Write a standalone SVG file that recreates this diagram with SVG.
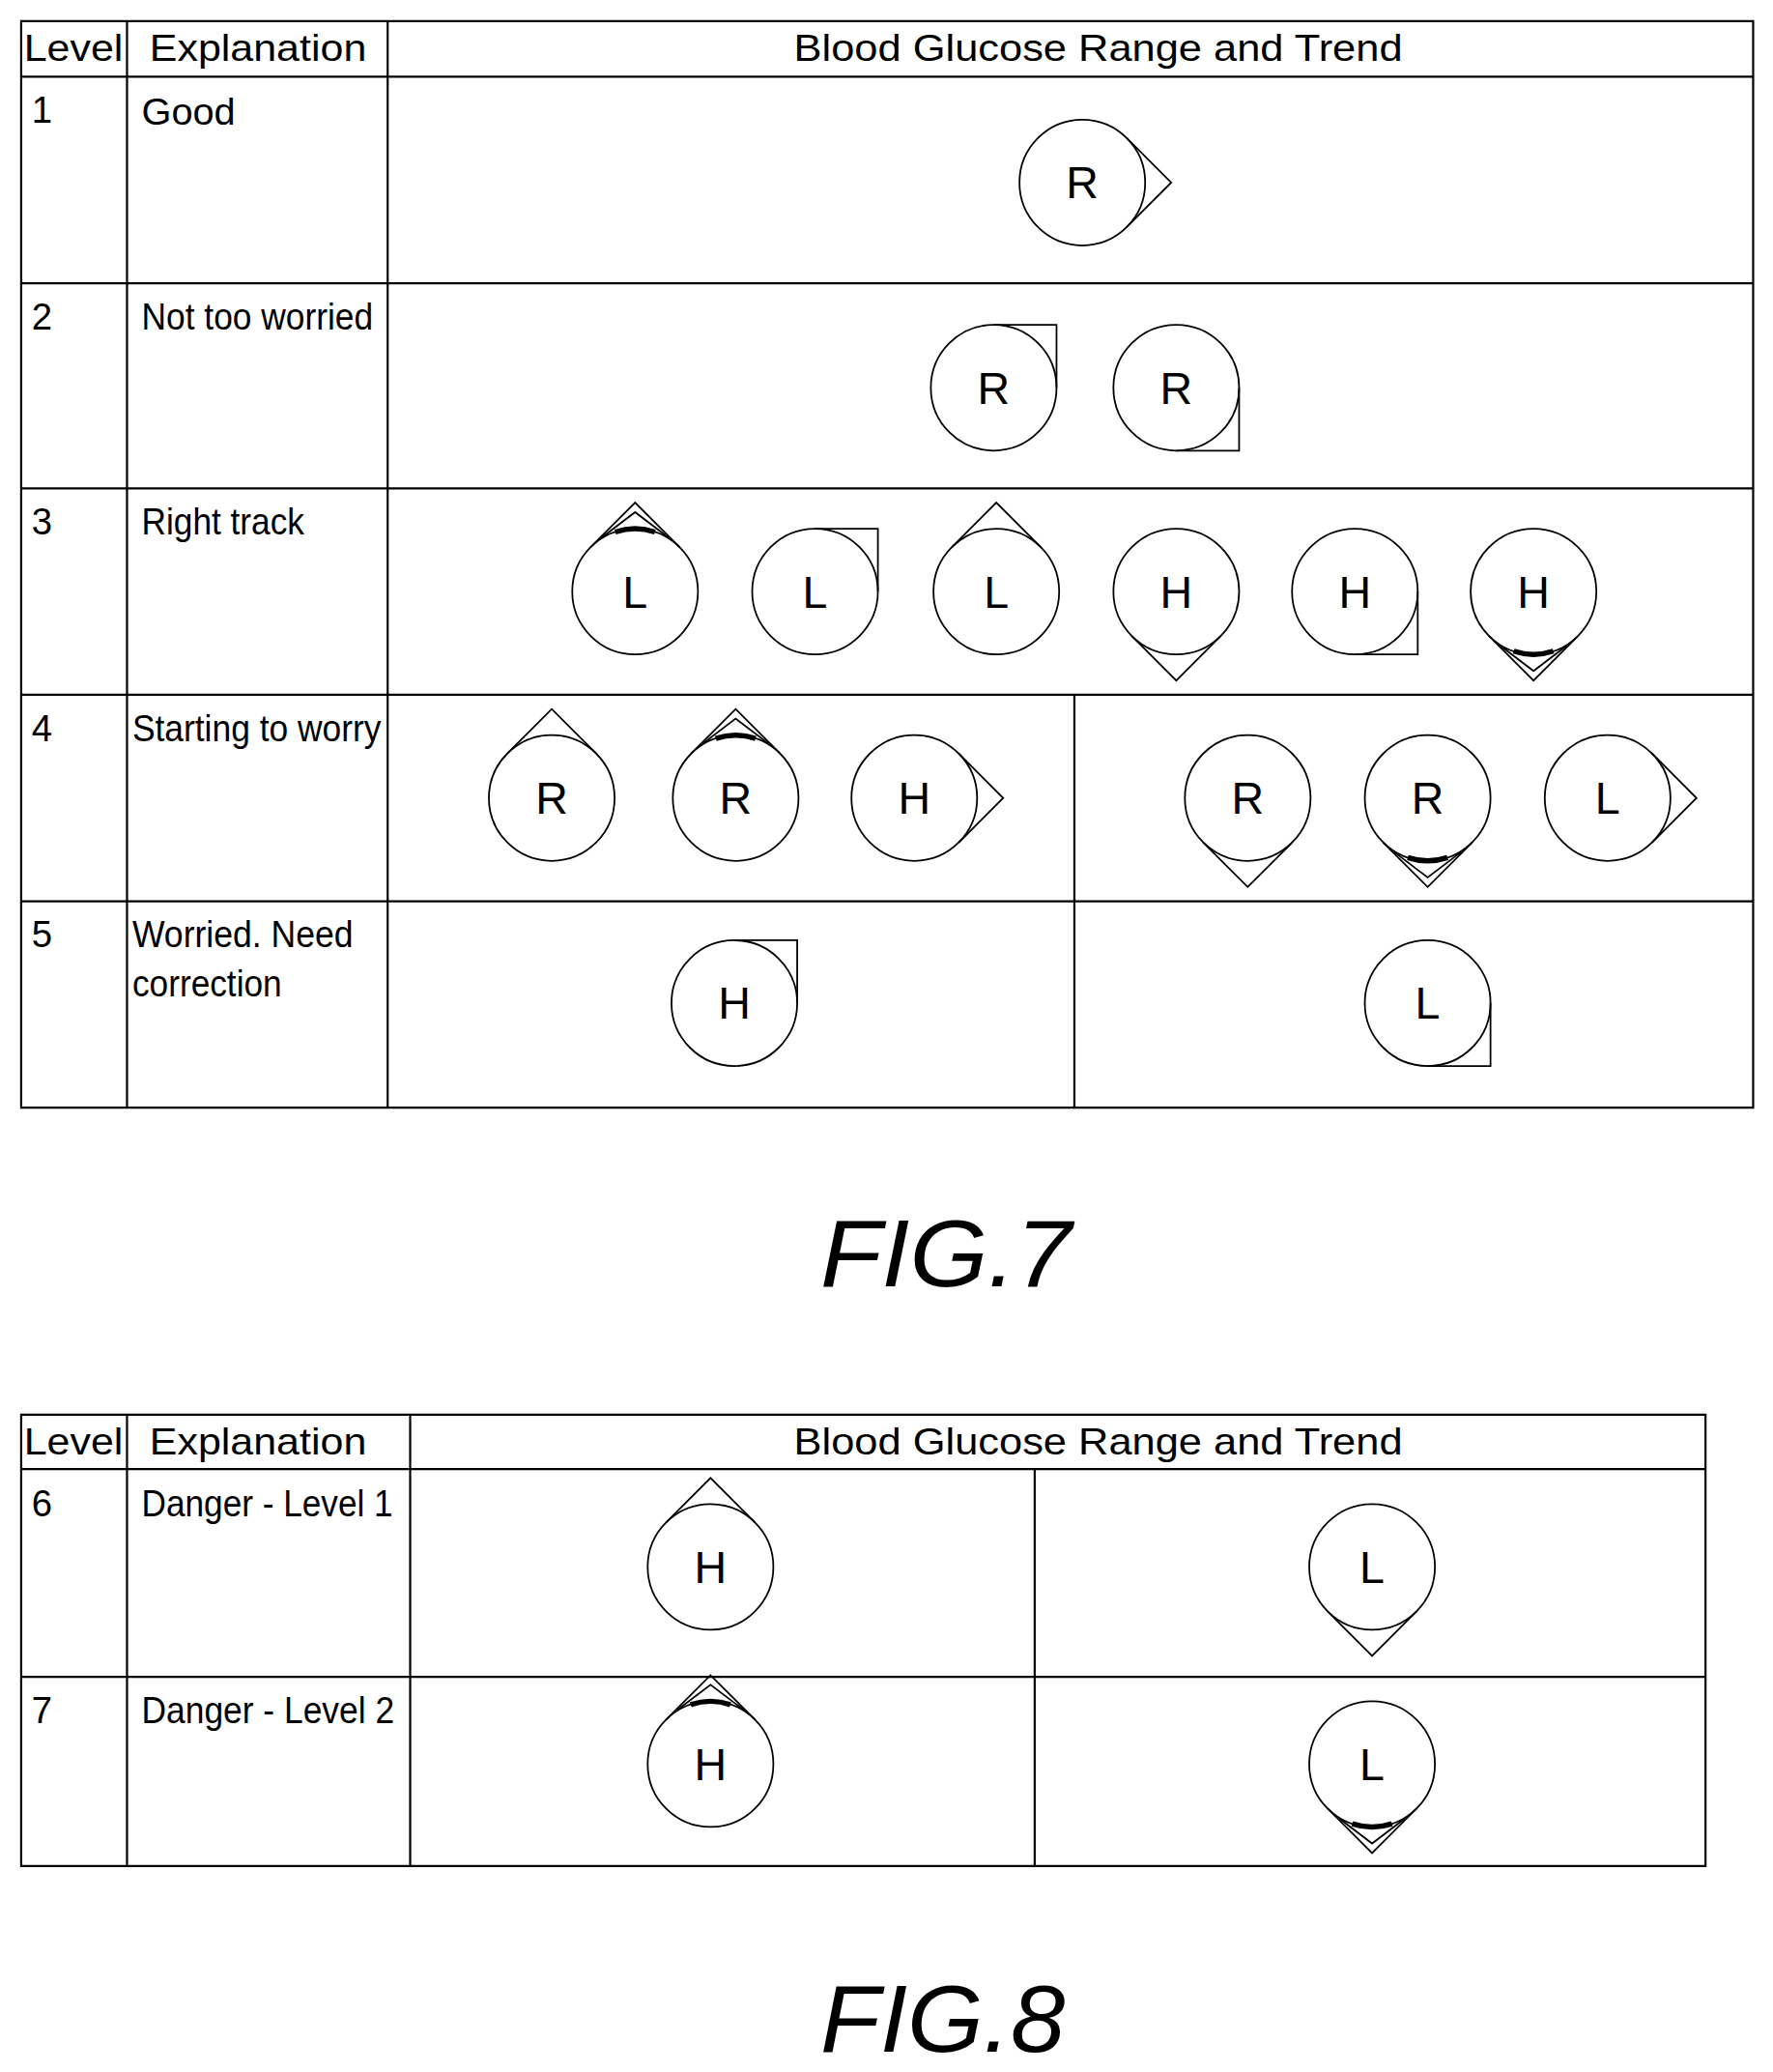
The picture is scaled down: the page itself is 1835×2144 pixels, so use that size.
<svg xmlns="http://www.w3.org/2000/svg" xmlns:xlink="http://www.w3.org/1999/xlink" width="1835" height="2144" viewBox="0 0 1835 2144">
<style>
.l{stroke:#000;stroke-width:1.6;fill:none}
.g{stroke:#000;stroke-width:1.3;fill:none}
.t{font-family:"Liberation Sans",Arial,sans-serif;font-size:29px;fill:#000}
.n{font-family:"Liberation Sans",Arial,sans-serif;font-size:28px;fill:#000}
.c{font-family:"Liberation Sans",Arial,sans-serif;font-size:34px;fill:#000;text-anchor:middle}
.f{font-family:"Liberation Sans",Arial,sans-serif;font-size:72px;font-style:italic;fill:#000}
</style>
<defs>
<circle id="ci" r="47.5" class="g"/>
<path id="pr" class="g" d="M33.6,-33.6 L67.2,0 L33.6,33.6"/>
<path id="pu" class="g" d="M-33.6,-33.6 L0,-67.2 L33.6,-33.6"/>
<path id="pd" class="g" d="M-33.6,33.6 L0,67.2 L33.6,33.6"/>
<path id="pur" class="g" d="M0,-47.5 H47.5 V0"/>
<path id="pdr" class="g" d="M47.5,0 V47.5 H0"/>
<g id="pud"><use href="#pu"/><path class="g" d="M-25,-41 L0,-60 L25,-41"/><path d="M-15,-45 A47.5,47.5 0 0 1 15,-45" stroke="#000" stroke-width="4" fill="none"/></g>
<g id="pdd"><use href="#pd"/><path class="g" d="M-25,41 L0,60 L25,41"/><path d="M-15,45 A47.5,47.5 0 0 0 15,45" stroke="#000" stroke-width="4" fill="none"/></g>
</defs>
<g transform="scale(1.3694)">
<g id="table7">
<path class="l" d="M16,16 H1325 V837 H16 Z M16,58 H1325 M16,214 H1325 M16,369 H1325 M16,525 H1325 M16,681 H1325 M96,16 V837 M293,16 V837 M812,525 V837"/>
<text class="t" x="18" y="46" textLength="75" lengthAdjust="spacingAndGlyphs">Level</text>
<text class="t" x="113" y="46" textLength="164" lengthAdjust="spacingAndGlyphs">Explanation</text>
<text class="t" x="600" y="46" textLength="460" lengthAdjust="spacingAndGlyphs">Blood Glucose Range and Trend</text>
<text class="n" x="24" y="93">1</text><text class="t" x="107" y="94">Good</text>
<text class="n" x="24" y="249">2</text><text class="n" x="107" y="249" textLength="175" lengthAdjust="spacingAndGlyphs">Not too worried</text>
<text class="n" x="24" y="404">3</text><text class="n" x="107" y="404" textLength="123" lengthAdjust="spacingAndGlyphs">Right track</text>
<text class="n" x="24" y="560">4</text><text class="n" x="100" y="560" textLength="188" lengthAdjust="spacingAndGlyphs">Starting to worry</text>
<text class="n" x="24" y="716">5</text><text class="n" x="100" y="716" textLength="167" lengthAdjust="spacingAndGlyphs">Worried. Need</text>
<text class="n" x="100" y="753" textLength="113" lengthAdjust="spacingAndGlyphs">correction</text>
</g>
<g id="r1a"><g transform="translate(818,138)"><use href="#ci"/><use href="#pr"/></g><text class="c" x="818" y="150">R</text></g>
<g id="r2a"><g transform="translate(751,293)"><use href="#ci"/><use href="#pur"/></g><text class="c" x="751" y="305">R</text></g>
<g id="r2b"><g transform="translate(889,293)"><use href="#ci"/><use href="#pdr"/></g><text class="c" x="889" y="305">R</text></g>
<g id="r3a"><g transform="translate(480,447)"><use href="#ci"/><use href="#pud"/></g><text class="c" x="480" y="459">L</text></g>
<g id="r3b"><g transform="translate(616,447)"><use href="#ci"/><use href="#pur"/></g><text class="c" x="616" y="459">L</text></g>
<g id="r3c"><g transform="translate(753,447)"><use href="#ci"/><use href="#pu"/></g><text class="c" x="753" y="459">L</text></g>
<g id="r3d"><g transform="translate(889,447)"><use href="#ci"/><use href="#pd"/></g><text class="c" x="889" y="459">H</text></g>
<g id="r3e"><g transform="translate(1024,447)"><use href="#ci"/><use href="#pdr"/></g><text class="c" x="1024" y="459">H</text></g>
<g id="r3f"><g transform="translate(1159,447)"><use href="#ci"/><use href="#pdd"/></g><text class="c" x="1159" y="459">H</text></g>
<g id="r4a"><g transform="translate(417,603)"><use href="#ci"/><use href="#pu"/></g><text class="c" x="417" y="615">R</text></g>
<g id="r4b"><g transform="translate(556,603)"><use href="#ci"/><use href="#pud"/></g><text class="c" x="556" y="615">R</text></g>
<g id="r4c"><g transform="translate(691,603)"><use href="#ci"/><use href="#pr"/></g><text class="c" x="691" y="615">H</text></g>
<g id="r4d"><g transform="translate(943,603)"><use href="#ci"/><use href="#pd"/></g><text class="c" x="943" y="615">R</text></g>
<g id="r4e"><g transform="translate(1079,603)"><use href="#ci"/><use href="#pdd"/></g><text class="c" x="1079" y="615">R</text></g>
<g id="r4f"><g transform="translate(1215,603)"><use href="#ci"/><use href="#pr"/></g><text class="c" x="1215" y="615">L</text></g>
<g id="r5a"><g transform="translate(555,758)"><use href="#ci"/><use href="#pur"/></g><text class="c" x="555" y="770">H</text></g>
<g id="r5b"><g transform="translate(1079,758)"><use href="#ci"/><use href="#pdr"/></g><text class="c" x="1079" y="770">L</text></g>
<text id="fig7" class="f" x="620" y="972" textLength="190" lengthAdjust="spacingAndGlyphs">FIG.7</text>
<g id="table8">
<path class="l" d="M16,1069 H1289 V1410 H16 Z M16,1110 H1289 M16,1267 H1289 M96,1069 V1410 M310,1069 V1410 M782,1110 V1410"/>
<text class="t" x="18" y="1099" textLength="75" lengthAdjust="spacingAndGlyphs">Level</text>
<text class="t" x="113" y="1099" textLength="164" lengthAdjust="spacingAndGlyphs">Explanation</text>
<text class="t" x="600" y="1099" textLength="460" lengthAdjust="spacingAndGlyphs">Blood Glucose Range and Trend</text>
<text class="n" x="24" y="1146">6</text><text class="n" x="107" y="1146" textLength="190" lengthAdjust="spacingAndGlyphs">Danger - Level 1</text>
<text class="n" x="24" y="1302">7</text><text class="n" x="107" y="1302" textLength="191" lengthAdjust="spacingAndGlyphs">Danger - Level 2</text>
</g>
<g id="r6a"><g transform="translate(537,1184)"><use href="#ci"/><use href="#pu"/></g><text class="c" x="537" y="1196">H</text></g>
<g id="r6b"><g transform="translate(1037,1184)"><use href="#ci"/><use href="#pd"/></g><text class="c" x="1037" y="1196">L</text></g>
<g id="r7a"><g transform="translate(537,1333)"><use href="#ci"/><use href="#pud"/></g><text class="c" x="537" y="1345">H</text></g>
<g id="r7b"><g transform="translate(1037,1333)"><use href="#ci"/><use href="#pdd"/></g><text class="c" x="1037" y="1345">L</text></g>
<text id="fig8" class="f" x="620" y="1550" textLength="185" lengthAdjust="spacingAndGlyphs">FIG.8</text>
</g>
</svg>
